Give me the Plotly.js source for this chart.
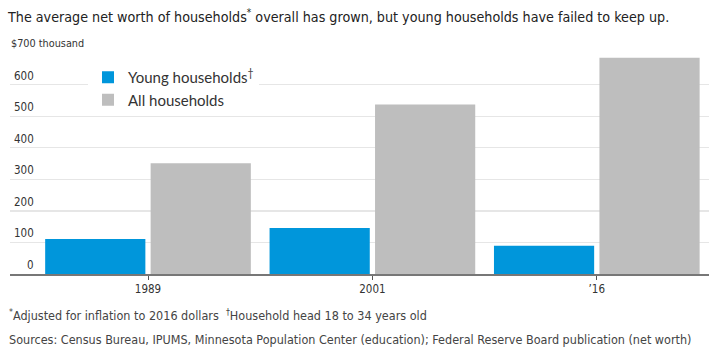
<!DOCTYPE html>
<html>
<head>
<meta charset="utf-8">
<script src="https://cdn.plot.ly/plotly-3.0.1.min.js"></script>
<style>html,body{margin:0;padding:0;background:#fff;}#chart{width:725px;height:356px;}</style>
</head>
<body>
<div id="chart"></div>
<script>
const categories = ["1989", "2001", "’16"];
const youngValues = [111, 146, 90];
const allValues = [351, 538, 686];
const seriesNames = ["Young households<sup>†</sup>", "All households"];
const yTickVals = [0, 100, 200, 300, 400, 500, 600];
const yTickText = ["0", "100", "200", "300", "400", "500", "600"];
const topTickLabel = "$700 thousand";

const narrow = '"DejaVu Sans Condensed", "Liberation Sans Narrow", sans-serif';
const regular = 'Lato, Roboto, "Noto Sans", sans-serif';

const W = 725, H = 356, L = 10, R = 16, T = 53, B = 82;
const plotH = H - T - B, plotW = W - L - R;
const py = p => (H - B - p) / plotH;   // pixel y -> paper y
const px = p => (p - L) / plotW;       // pixel x -> paper x

const traces = [
  {type: 'bar', name: seriesNames[0], x: categories, y: youngValues,
   marker: {color: '#0096db'}, hoverinfo: 'y'},
  {type: 'bar', name: seriesNames[1], x: categories, y: allValues,
   marker: {color: '#bebebe'}, hoverinfo: 'y'}
];

const annotations = yTickVals.map((v, i) => ({
  xref: 'paper', yref: 'y', x: px(36), y: v, xanchor: 'right', yanchor: 'bottom',
  yshift: 0, text: yTickText[i], showarrow: false,
  font: {family: narrow, size: 11.5, color: '#333'}
}));
annotations.push({
  xref: 'paper', yref: 'paper', x: px(9), y: py(44), xanchor: 'left', yanchor: 'middle',
  text: topTickLabel, showarrow: false, font: {family: narrow, size: 10.8, color: '#333'}
});
annotations.push({
  xref: 'paper', yref: 'paper', x: px(7), y: py(315), xanchor: 'left', yanchor: 'middle',
  text: '<sup>*</sup>Adjusted for inflation to 2016 dollars &nbsp;<sup>†</sup>Household head 18 to 34 years old',
  showarrow: false, font: {family: narrow, size: 12.5, color: '#444'}
});
annotations.push({
  xref: 'paper', yref: 'paper', x: px(7), y: py(339), xanchor: 'left', yanchor: 'middle',
  text: 'Sources: Census Bureau, IPUMS, Minnesota Population Center (education); Federal Reserve Board publication (net worth)',
  showarrow: false, font: {family: narrow, size: 12.5, color: '#444'}
});

const layout = {
  width: W, height: H,
  margin: {l: L, r: R, t: T, b: B, pad: 0},
  paper_bgcolor: '#fff', plot_bgcolor: '#fff',
  title: {text: 'The average net worth of households<sup>*</sup> overall has grown, but young households have failed to keep up.',
          x: 8 / W, xanchor: 'left', xref: 'container', y: 1 - 17 / H, yanchor: 'middle', yref: 'container',
          font: {family: narrow, size: 14.2, color: '#222'}},
  barmode: 'group', bargap: 0.06, bargroupgap: 0.05,
  xaxis: {type: 'category', range: [-0.615, 2.5], showline: true, linecolor: '#777', linewidth: 1.5,
          ticks: 'outside', ticklen: 4, tickcolor: '#555', tickwidth: 1,
          tickfont: {family: narrow, size: 11.5, color: '#333'}, showgrid: false, fixedrange: true},
  yaxis: {range: [0, 701], tickvals: yTickVals.concat([700]), showticklabels: false, showgrid: true,
          gridcolor: '#e6e6e6', gridwidth: 1.2, zeroline: false, fixedrange: true},
  showlegend: true,
  legend: {x: px(88), xanchor: 'left', y: py(61), yanchor: 'top', bgcolor: '#fff',
           font: {family: regular, size: 15, color: '#333'}, traceorder: 'normal',
           itemclick: false, itemdoubleclick: false},
  annotations: annotations
};

Plotly.newPlot('chart', traces, layout, {displayModeBar: false, staticPlot: true});
</script>
</body>
</html>
